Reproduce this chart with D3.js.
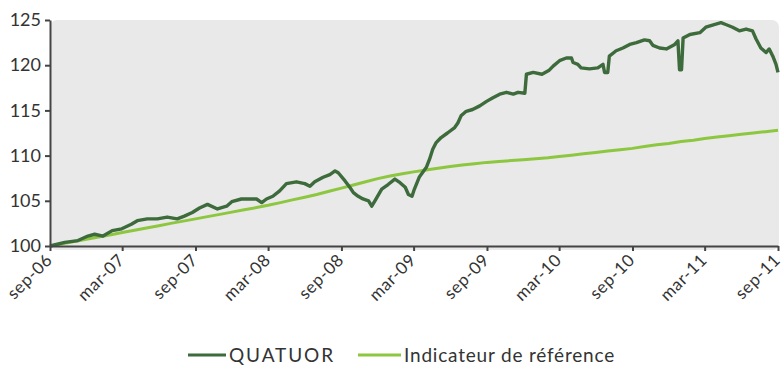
<!DOCTYPE html>
<html>
<head>
<meta charset="utf-8">
<script src="https://cdn.jsdelivr.net/npm/d3@7"></script>
<style>
  html, body { margin: 0; padding: 0; background: #fff; }
  svg { display: block; font-family: Lato, "Open Sans", sans-serif; }
</style>
</head>
<body>
<svg id="chart" width="783" height="365"></svg>
<script>
// QUATUOR fund (base 100) — dates and values
const quatuorDates = [
  "2006-09-01","2006-10-08","2006-11-10","2006-12-05","2006-12-22","2007-01-12","2007-02-04","2007-02-28",
  "2007-03-24","2007-04-08","2007-05-03","2007-05-28","2007-06-22","2007-07-17","2007-08-04","2007-08-24",
  "2007-09-11","2007-10-01","2007-10-26","2007-11-18","2007-12-01","2007-12-25","2008-02-01","2008-02-14",
  "2008-02-26","2008-03-13","2008-03-30","2008-04-16","2008-05-11","2008-06-01","2008-06-14","2008-06-26",
  "2008-07-17","2008-08-03","2008-08-16","2008-08-24","2008-09-10","2008-09-22","2008-10-01","2008-10-13",
  "2008-10-25","2008-11-08","2008-11-16","2008-11-24","2008-12-11","2008-12-27","2009-01-13","2009-01-26",
  "2009-02-08","2009-02-16","2009-02-25","2009-03-03","2009-03-15","2009-04-02","2009-04-10","2009-04-18",
  "2009-04-26","2009-05-09","2009-05-25","2009-06-12","2009-06-20","2009-06-28","2009-07-11","2009-07-27",
  "2009-08-14","2009-08-31","2009-09-16","2009-10-03","2009-10-20","2009-11-06","2009-11-18","2009-12-05",
  "2009-12-09","2009-12-26","2010-01-17","2010-02-03","2010-02-14","2010-03-02","2010-03-19","2010-04-01",
  "2010-04-05","2010-04-17","2010-04-25","2010-05-16","2010-06-06","2010-06-19","2010-06-23","2010-07-01",
  "2010-07-05","2010-07-22","2010-08-08","2010-08-25","2010-09-11","2010-10-01","2010-10-14","2010-10-22",
  "2010-11-08","2010-11-25","2010-12-16","2010-12-24","2010-12-28","2011-01-02","2011-01-06","2011-01-23",
  "2011-02-17","2011-03-04","2011-03-25","2011-04-11","2011-04-23","2011-05-10","2011-05-27","2011-06-13",
  "2011-06-29","2011-07-08","2011-07-20","2011-08-02","2011-08-10","2011-08-19","2011-08-27","2011-09-01"
];
const quatuorValues = [
  100.0,100.4,100.6,101.1,101.3,101.1,101.7,101.9,
  102.4,102.8,103.0,103.0,103.2,103.0,103.3,103.7,
  104.2,104.6,104.1,104.4,104.9,105.2,105.2,104.8,
  105.2,105.5,106.1,106.9,107.1,106.9,106.6,107.1,
  107.6,107.9,108.3,108.1,107.2,106.5,105.9,105.5,
  105.2,105.0,104.4,105.0,106.3,106.8,107.4,107.0,
  106.5,105.7,105.5,106.3,107.6,108.7,109.6,110.7,
  111.4,112.0,112.5,113.1,113.6,114.4,114.9,115.1,
  115.5,116.0,116.4,116.8,117.0,116.8,117.0,116.9,
  119.0,119.2,119.0,119.4,119.9,120.5,120.8,120.8,
  120.3,120.1,119.7,119.6,119.7,120.1,119.2,119.2,
  121.0,121.6,121.9,122.3,122.5,122.8,122.7,122.2,
  121.9,121.8,122.3,122.7,119.5,119.5,123.0,123.4,
  123.6,124.2,124.5,124.7,124.5,124.2,123.8,124.0,
  123.8,122.9,121.9,121.4,121.8,121.0,120.1,119.2
];

// Benchmark index (base 100), month starts from sep-06 to sep-11
const benchmarkStart = "2006-09-01";
const benchmarkValues = [
  100.0,100.25,100.5,100.75,101.0,101.25,101.5,101.75,102.0,102.25,102.5,102.75,
  103.0,103.25,103.5,103.75,104.0,104.25,104.5,104.8,105.1,105.4,105.7,106.05,
  106.4,106.75,107.1,107.45,107.75,108.0,108.2,108.4,108.6,108.8,108.95,109.1,
  109.25,109.35,109.45,109.55,109.65,109.75,109.9,110.05,110.2,110.35,110.5,110.65,
  110.8,111.0,111.2,111.35,111.55,111.7,111.9,112.05,112.2,112.35,112.5,112.65,
  112.8
];

const yTicks = [100, 105, 110, 115, 120, 125];
const xTickLabels = ["sep-06","mar-07","sep-07","mar-08","sep-08","mar-09","sep-09","mar-10","sep-10","mar-11","sep-11"];
const seriesNames = ["QUATUOR", "Indicateur de référence"];

const colors = { quatuor: "#3d6b3b", bench: "#8dc63f" };

const parse = d3.timeParse("%Y-%m-%d");
const quatuor = quatuorDates.map((d, i) => ({ date: parse(d), value: quatuorValues[i] }));
const start = parse(benchmarkStart);
const bench = benchmarkValues.map((v, i) => ({ date: d3.timeMonth.offset(start, i), value: v }));
const tickDates = xTickLabels.map((_, i) => d3.timeMonth.offset(start, i * 6));

const svg = d3.select("#chart");
const m = { left: 50, right: 5, top: 20, bottom: 119 };
const W = 783, H = 365;
const x = d3.scaleTime().domain([start, d3.timeMonth.offset(start, 60)]).range([m.left, W - m.right]);
const y = d3.scaleLinear().domain([100, 125]).range([H - m.bottom, m.top]);

// plot background
svg.append("rect")
  .attr("x", m.left).attr("y", m.top)
  .attr("width", W - m.right - m.left + 1).attr("height", y(100) - m.top + 4)
  .attr("rx", 7).attr("fill", "#e9e9e9");

// lines
const line = d3.line().x(d => x(d.date)).y(d => y(d.value));
svg.append("path").datum(bench)
  .attr("fill", "none").attr("stroke", colors.bench).attr("stroke-width", 3)
  .attr("d", line);
svg.append("path").datum(quatuor)
  .attr("fill", "none").attr("stroke", colors.quatuor).attr("stroke-width", 3.4)
  .attr("stroke-linejoin", "round")
  .attr("d", line);

// y axis
const yAxis = svg.append("g")
  .attr("transform", `translate(${m.left},0)`)
  .call(d3.axisLeft(y).tickValues(yTicks).tickSize(5).tickPadding(4).tickSizeOuter(0));
yAxis.select(".domain").attr("stroke", "#444").attr("stroke-width", 2);
yAxis.selectAll(".tick line").attr("stroke", "#444").attr("stroke-width", 2);
yAxis.selectAll(".tick text").attr("fill", "#333").style("font-size", "18px").style("font-family", "Lato, sans-serif");

// x axis
const xAxis = svg.append("g")
  .attr("transform", `translate(0,${y(100)})`)
  .call(d3.axisBottom(x).tickValues(tickDates).tickFormat((d, i) => xTickLabels[i]).tickSize(5).tickSizeOuter(0));
xAxis.select(".domain").attr("stroke", "#444").attr("stroke-width", 2);
xAxis.selectAll(".tick line").attr("stroke", "#444").attr("stroke-width", 2);
xAxis.selectAll(".tick text")
  .attr("fill", "#333").style("font-size", "17px").style("font-family", "Lato, sans-serif")
  .style("letter-spacing", "0.6px")
  .attr("text-anchor", "end")
  .attr("dy", null).attr("y", 0)
  .attr("transform", "translate(3,15) rotate(-45)");

// legend
const legend = svg.append("g");
const items = [
  { name: seriesNames[0], color: colors.quatuor, x0: 188, x1: 226, tx: 229, ls: 1.9 },
  { name: seriesNames[1], color: colors.bench, x0: 358, x1: 401, tx: 404, ls: 0.8 }
];
items.forEach(it => {
  legend.append("line").attr("x1", it.x0).attr("x2", it.x1).attr("y1", 355).attr("y2", 355)
    .attr("stroke", it.color).attr("stroke-width", 3);
  legend.append("text").attr("x", it.tx).attr("y", 362)
    .attr("fill", "#333").style("font-size", "19px").style("letter-spacing", it.ls + "px")
    .text(it.name);
});
</script>
</body>
</html>
